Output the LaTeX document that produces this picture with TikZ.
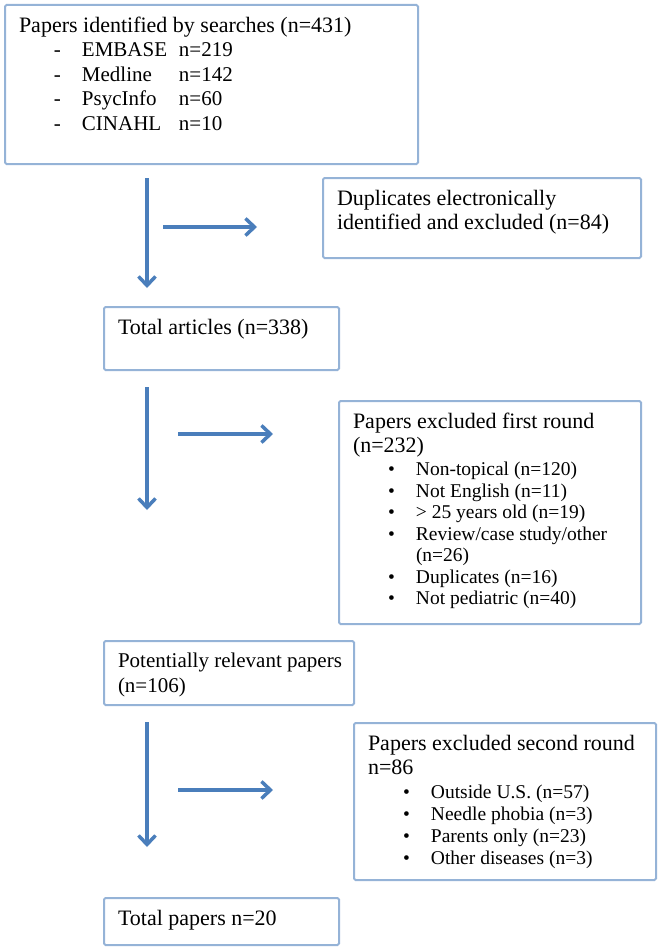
\documentclass[tikz,border=0pt]{standalone}
\usepackage{fontspec}
\setmainfont{Liberation Serif}
\usetikzlibrary{arrows.meta}
\definecolor{boxblue}{RGB}{149,179,215}
\definecolor{arrowblue}{RGB}{74,126,187}
\newcommand{\dashitem}[2]{\hspace*{35pt}\makebox[28pt][l]{-}\makebox[97pt][l]{#1}#2}
\newcommand{\bulitem}[1]{\hspace*{35pt}\makebox[28pt][l]{\textbullet}#1}

\begin{document}
\begin{tikzpicture}[x=1pt,y=-1pt,
  box/.style={draw=boxblue,line width=2pt,rounded corners=1.5pt,anchor=north west,
    inner xsep=14pt,inner ysep=12pt,font=\fontsize{22}{24.5}\selectfont},
  flow/.style={draw=arrowblue,line width=3.5pt,-{Straight Barb[length=9pt,width=17pt]}}]
\useasboundingbox (0,0) rectangle (660,947);

\node[box] (search) at (4,4) {\parbox[c][135pt][t]{385pt}{Papers identified by searches (n=431)\\
  {\fontsize{21}{24.5}\selectfont\dashitem{EMBASE}{n=219}}\\
  {\fontsize{21}{24.5}\selectfont\dashitem{Medline}{n=142}}\\
  {\fontsize{21}{24.5}\selectfont\dashitem{PsycInfo}{n=60}}\\
  {\fontsize{21}{24.5}\selectfont\dashitem{CINAHL}{n=10}}}};
\node[box] (dup) at (322,177) {\parbox[c][56pt][t]{290pt}{Duplicates electronically\\identified and excluded (n=84)}};
\node[box] (total) at (103,306) {\parbox[c][39pt][t]{207pt}{Total articles (n=338)}};
\node[box] (exclfirst) at (338,400) {\parbox[c][199pt][t]{274pt}{Papers excluded first round\\(n=232)\par
  \vspace{1.5pt}{\fontsize{19.5}{21.5}\selectfont
  \bulitem{Non-topical (n=120)}\\
  \bulitem{Not English (n=11)}\\
  \bulitem{> 25 years old (n=19)}\\
  \bulitem{Review/case study/other}\\
  \hspace*{63pt}(n=26)\\
  \bulitem{Duplicates (n=16)}\\
  \bulitem{Not pediatric (n=40)}\par}}};
\node[box] (relevant) at (103,640) {\parbox[c][40pt][t]{222pt}{\fontsize{21}{24.5}\selectfont
  \mbox{Potentially relevant papers}\\(n=106)}};
\node[box] (exclsecond) at (353,722) {\parbox[c][133pt][t]{274pt}{Papers excluded second round\\n=86\par
  \vspace{1.5pt}{\fontsize{19.5}{22}\selectfont
  \bulitem{Outside U.S. (n=57)}\\
  \bulitem{Needle phobia (n=3)}\\
  \bulitem{Parents only (n=23)}\\
  \bulitem{Other diseases (n=3)}\par}}};
\node[box] (final) at (103,897) {\parbox[c][23pt][t]{207pt}{Total papers n=20}};

\coordinate (va) at (147,178);
\coordinate (vb) at (147,288);
\coordinate (ha) at (163,227);
\coordinate (hb) at (257,227);
\coordinate (vc) at (147,387);
\coordinate (vd) at (147,510);
\coordinate (hc) at (178,434);
\coordinate (hd) at (273,434);
\coordinate (ve) at (147,722);
\coordinate (vf) at (147,847);
\coordinate (he) at (178,790);
\coordinate (hf) at (273,790);

\draw[flow] (va) -- (vb);
\draw[flow] (ha) -- (hb);
\draw[flow] (vc) -- (vd);
\draw[flow] (hc) -- (hd);
\draw[flow] (ve) -- (vf);
\draw[flow] (he) -- (hf);
\end{tikzpicture}
\end{document}
